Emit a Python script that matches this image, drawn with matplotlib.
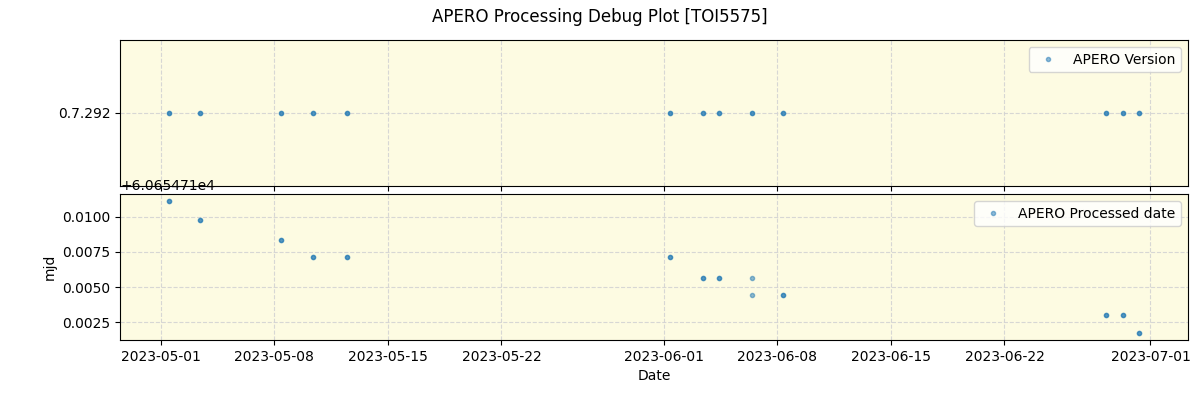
import matplotlib
matplotlib.use("Agg")
import matplotlib.pyplot as plt
import numpy as np
import pandas as pd

# observation dates (two files per night, one night with two processing times)
obs_dates = pd.to_datetime([
    "2023-05-01 11:45", "2023-05-01 11:45",
    "2023-05-03 10:30", "2023-05-03 10:30",
    "2023-05-08 10:00", "2023-05-08 10:00",
    "2023-05-10 10:00", "2023-05-10 10:00",
    "2023-05-12 11:30", "2023-05-12 11:30",
    "2023-06-01 10:00", "2023-06-01 10:00",
    "2023-06-03 10:00", "2023-06-03 10:00",
    "2023-06-04 09:40", "2023-06-04 09:40",
    "2023-06-06 10:20", "2023-06-06 10:20",
    "2023-06-08 08:50", "2023-06-08 08:50",
    "2023-06-28 06:40", "2023-06-28 06:40",
    "2023-06-29 08:00", "2023-06-29 08:00",
    "2023-06-30 07:40", "2023-06-30 07:40",
])

apero_version = ["0.7.292"] * len(obs_dates)

processed_mjd = 60654.71 + np.array([
    0.01113, 0.01113,
    0.00979, 0.00979,
    0.00837, 0.00837,
    0.00717, 0.00717,
    0.00717, 0.00717,
    0.00717, 0.00717,
    0.00568, 0.00568,
    0.00568, 0.00568,
    0.00568, 0.00441,
    0.00441, 0.00441,
    0.00300, 0.00300,
    0.00300, 0.00300,
    0.00172, 0.00172,
])

fig, axes = plt.subplots(2, 1, figsize=(12, 4), dpi=100, sharex=True)
fig.subplots_adjust(left=0.1, right=0.99, top=0.9, bottom=0.15, hspace=0.055)
fig.suptitle("APERO Processing Debug Plot [TOI5575]", fontsize=12)

bg = '#fdfbe2'

ax = axes[0]
ax.plot(obs_dates, apero_version, '.', color='tab:blue', alpha=0.5, label='APERO Version')
ax.set_facecolor(bg)
ax.grid(True, linestyle='--', color='lightgray', alpha=0.9)
ax.legend(loc='upper right')

ax = axes[1]
ax.plot(obs_dates, processed_mjd, '.', color='tab:blue', alpha=0.5, label='APERO Processed date')
ax.set_facecolor(bg)
ax.grid(True, linestyle='--', color='lightgray', alpha=0.9)
ax.legend(loc='upper right')
ax.set_ylabel('mjd')
ax.set_xlabel('Date')

fig.savefig('out.png')
